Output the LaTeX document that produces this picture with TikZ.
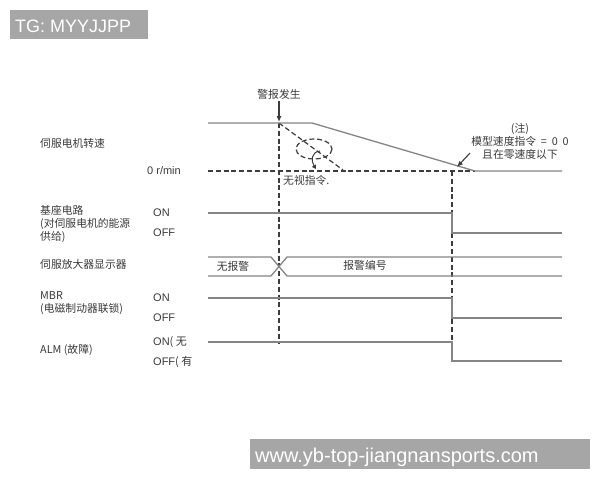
\documentclass[tikz,border=0pt]{standalone}
\usepackage{fontspec}
\setmainfont{Liberation Sans}
\newfontfamily\cjk{Noto Sans CJK SC}
\usetikzlibrary{arrows.meta}
\definecolor{txtgray}{HTML}{3A3A3A}
\definecolor{siggray}{HTML}{858585}
\definecolor{dashgray}{HTML}{3C3C3C}
\definecolor{bannergray}{HTML}{A6A6A6}
\tikzstyle{sig}=[siggray,line width=1.3pt]
\tikzstyle{dsh}=[dashgray,line width=1.2pt,dash pattern=on 5pt off 2.8pt]
\tikzstyle{zh}=[txtgray,inner sep=0pt,font=\cjk\fontsize{10.8}{13}\selectfont]
\tikzstyle{en}=[txtgray,inner sep=0pt,font=\fontsize{11}{13}\selectfont]
\tikzstyle{banner}=[white,inner sep=0pt,anchor=base west]
\tikzstyle{pointer}=[dashgray,line width=1.1pt,-{Latex[length=6pt,width=5pt]}]

\begin{document}
\begin{tikzpicture}[x=1pt,y=-1pt]
\useasboundingbox[fill=white] (0,0) rectangle (600,480);
\fill[bannergray] (10,10) rectangle (148,39);
\node[banner,font=\fontsize{18}{20}\selectfont] (tg) at (15,32) {TG: MYYJJPP};
\fill[bannergray] (250,439) rectangle (590,469);
\node[banner,font=\fontsize{20}{22}\selectfont] (url) at (255,462) {www.yb-top-jiangnansports.com};

\node[zh,anchor=west] (speed) at (40,143) {伺服电机转速};
\node[zh,anchor=west,align=left] (base) at (40,224) {基座电路\\(对伺服电机的能源\\供给)};
\node[zh,anchor=west] (disp) at (40,264) {伺服放大器显示器};
\node[zh,anchor=west,align=left] (mbr) at (40,303) {MBR\\(电磁制动器联锁)};
\node[zh,anchor=west] (alm) at (40,350) {ALM (故障)};

\node[en,anchor=west] (zero) at (147,171) {0 r/min};
\node[en,anchor=west] (baseon) at (153,213) {ON};
\node[en,anchor=west] (baseoff) at (153,233) {OFF};
\node[en,anchor=west] (mbron) at (153,298) {ON};
\node[en,anchor=west] (mbroff) at (153,318) {OFF};
\node[en,anchor=west] (almon) at (153,342) {ON{\cjk (~无}};
\node[en,anchor=west] (almoff) at (153,362) {OFF{\cjk (~有}};

\coordinate (t1) at (279,123);
\coordinate (t2) at (452,171);
\coordinate (n1) at (470,153);
\coordinate (n2) at (457,167);

\draw[dsh] (t1) -- (279,344);
\draw[dsh] (t2) -- (452,342);
\draw[dsh] (208,171) -- (475,171);
\draw[dsh] (t1) -- (343,170);
\draw[dsh] (314,149) ellipse [x radius=18,y radius=10];
\draw[dashgray,line width=1pt,-{Triangle[length=4pt,width=4.5pt]}] (320,151) .. controls (311,152) and (311,161) .. (316,169);

\draw[sig] (208,123) -- (t1) -- (312,123) -- (475,171) -- (562,171);
\draw[sig] (208,213) -- (452,213) -- (452,233) -- (562,233);
\draw[sig] (208,257) -- (271,257) -- (287,276) -- (562,276);
\draw[sig] (208,276) -- (271,276) -- (287,257) -- (562,257);
\draw[sig] (208,298) -- (452,298) -- (452,318) -- (562,318);
\draw[sig] (208,342) -- (452,342) -- (452,361) -- (562,361);

\node[zh] (alarm) at (279,94) {警报发生};
\draw[pointer,shorten <=2pt,shorten >=1pt] (alarm.south) -- (t1);
\node[zh,anchor=west] (ignore) at (283,180) {无视指令.};
\node[zh,align=center] (note) at (520,141) {(注)\\模型速度指令\ \ =\ \ 0\ \ 0\\且在零速度以下};
\draw[pointer] (n1) -- (n2);
\node[zh] (noalarm) at (233,266) {无报警};
\node[zh] (alarmno) at (365,265) {报警编号};
\end{tikzpicture}
\end{document}
